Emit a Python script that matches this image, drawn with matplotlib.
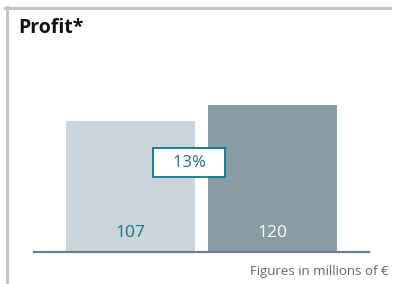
import matplotlib
matplotlib.use('Agg')
import matplotlib.pyplot as plt
from matplotlib.lines import Line2D

plt.rcParams['font.family'] = ['Open Sans', 'DejaVu Sans']

# data
years = ['prev', 'curr']
profit = [107, 120]
bar_colors = ['#cad6db', '#879ca3']
label_colors = ['#1f6e8c', '#ffffff']
change_label = '13%'
title = 'Profit*'
note = 'Figures in millions of \u20ac'

W, H = 394, 284
fig = plt.figure(figsize=(W / 100, H / 100), dpi=100)

# axes placed in pixel units
left, right, bottom, top = 34, 369, 252, 105
ax = fig.add_axes([left / W, 1 - bottom / H, (right - left) / W, (bottom - top) / H])

x = list(range(len(profit)))
ax.bar(x, profit, width=0.908, color=bar_colors, zorder=2)
ax.set_xlim(-0.68, 1.68)
ax.set_ylim(0, 120)

for xi, v, c in zip(x, profit, label_colors):
    ax.annotate(str(v), (xi, 0), xytext=(0, 13.5), textcoords='offset points',
                ha='center', va='center', color=c, fontsize=12.5)

ax.text(0.412, 73, '   ' + change_label + '   ', ha='center', va='center',
        color='#1f6e8c', fontsize=12, zorder=5,
        bbox=dict(boxstyle='square,pad=0.4', fc='white', ec='#1f6e8c', lw=1.3))

for s in ['top', 'right', 'left']:
    ax.spines[s].set_visible(False)
ax.spines['bottom'].set_color('#6e7e87')
ax.spines['bottom'].set_linewidth(1.6)
ax.set_xticks([])
ax.set_yticks([])

# frame lines
fig.add_artist(Line2D([5 / W, 390 / W], [1 - 7.5 / H] * 2, color='#c4c4c4', lw=2.2))
fig.add_artist(Line2D([6.5 / W] * 2, [1 - 6.5 / H, 0], color='#c4c4c4', lw=2.2))

fig.text(18 / W, 1 - 28 / H, title, fontsize=14, fontweight='bold', color='#111111',
         ha='left', va='center')
fig.text(389 / W, 1 - 271 / H, note, fontsize=9.5, color='#666666',
         ha='right', va='center')

fig.savefig('out.png', dpi=100)
